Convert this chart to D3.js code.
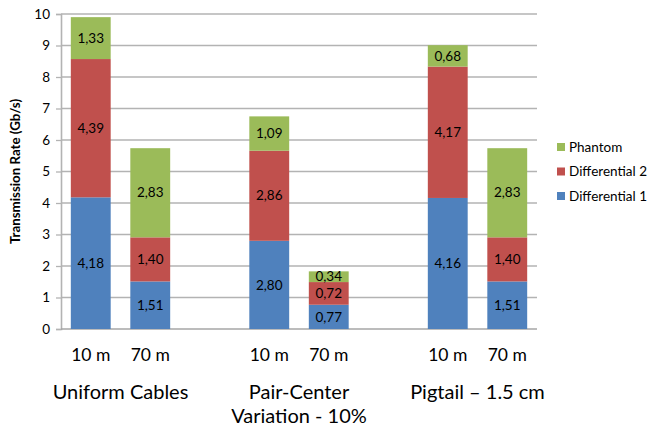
<!DOCTYPE html>
<html>
<head>
<meta charset="utf-8">
<script src="https://cdn.jsdelivr.net/npm/d3@7"></script>
<style>
  html, body { margin: 0; padding: 0; background: #fff; }
  svg { display: block; font-family: Lato, "Open Sans", sans-serif; }
</style>
</head>
<body>
<svg id="chart" width="647" height="430"></svg>
<script>
// Bars: one slot per bar, with empty slots separating the three cable groups
const slots = ["u10", "u70", "gap1", "p10", "p70", "gap2", "t10", "t70"];
const barKeys = ["u10", "u70", "p10", "p70", "t10", "t70"];
const barLabels = ["10 m", "70 m", "10 m", "70 m", "10 m", "70 m"];
const groupLabels = [["Uniform Cables"], ["Pair-Center", "Variation - 10%"], ["Pigtail \u2013 1.5 cm"]];
const groupMembers = [["u10", "u70"], ["p10", "p70"], ["t10", "t70"]];

const seriesNames = ["Differential 1", "Differential 2", "Phantom"];
const differential1 = [4.18, 1.51, 2.80, 0.77, 4.16, 1.51];
const differential2 = [4.39, 1.40, 2.86, 0.72, 4.17, 1.40];
const phantom = [1.33, 2.83, 1.09, 0.34, 0.68, 2.83];
const yTicks = [0, 1, 2, 3, 4, 5, 6, 7, 8, 9, 10];
const colors = ["#4F81BD", "#C0504D", "#9BBB59"];

const svg = d3.select("#chart");
const x0 = 61, x1 = 537, yTop = 14, yBot = 329;

const x = d3.scaleBand().domain(slots).range([x0, x1]).paddingInner(0.33).paddingOuter(0.165);
const y = d3.scaleLinear().domain([0, 10]).range([yBot, yTop]);

// horizontal gridlines
svg.append("g").selectAll("line").data(yTicks.filter(d => d > 0)).join("line")
  .attr("x1", x0).attr("x2", x1)
  .attr("y1", d => y(d)).attr("y2", d => y(d))
  .attr("stroke", "#b3b3b3").attr("stroke-width", 1.3);

// y axis
const yAxis = d3.axisLeft(y).tickValues(yTicks).tickSize(5).tickPadding(6).tickFormat(d3.format("d"));
const ga = svg.append("g").attr("transform", `translate(${x0},0)`).call(yAxis);
ga.select(".domain").attr("stroke", "#b3b3b3").attr("stroke-width", 1.6);
ga.selectAll(".tick line").attr("stroke", "#b3b3b3").attr("stroke-width", 1.3);
ga.selectAll(".tick text").attr("font-size", 13.5).attr("fill", "#000").attr("font-family", "Lato, sans-serif");

// x baseline
svg.append("line").attr("x1", x0).attr("x2", x1).attr("y1", yBot).attr("y2", yBot)
  .attr("stroke", "#a6a6a6").attr("stroke-width", 1.5);

// stacked data
const rows = barKeys.map((k, i) => ({
  key: k,
  "Differential 1": differential1[i],
  "Differential 2": differential2[i],
  "Phantom": phantom[i]
}));
const stacked = d3.stack().keys(seriesNames)(rows);

const layers = svg.append("g").selectAll("g").data(stacked).join("g")
  .attr("fill", (d, i) => colors[i]);

layers.selectAll("rect").data(d => d).join("rect")
  .attr("x", d => x(d.data.key))
  .attr("width", x.bandwidth())
  .attr("y", d => y(d[1]))
  .attr("height", d => y(d[0]) - y(d[1]));

// value labels
const fmt = v => d3.format(".2f")(v).replace(".", ",");
svg.append("g").selectAll("g").data(stacked).join("g")
  .selectAll("text").data(d => d.map(p => ({ p, key: d.key }))).join("text")
  .attr("x", d => x(d.p.data.key) + x.bandwidth() / 2)
  .attr("y", d => (y(d.p[0]) + y(d.p[1])) / 2)
  .attr("dy", "0.35em")
  .attr("text-anchor", "middle")
  .attr("font-size", 13.5)
  .attr("fill", "#000")
  .text(d => fmt(d.p.data[d.key]));

// category labels
svg.append("g").selectAll("text").data(barKeys).join("text")
  .attr("x", (d) => x(d) + x.bandwidth() / 2)
  .attr("y", 355)
  .attr("dy", "0.35em")
  .attr("text-anchor", "middle")
  .attr("font-size", 17.5)
  .attr("fill", "#000")
  .text((d, i) => barLabels[i]);

// group labels
groupLabels.forEach((lines, gi) => {
  const m = groupMembers[gi];
  const cx = (x(m[0]) + x(m[1]) + x.bandwidth()) / 2;
  const t = svg.append("text").attr("text-anchor", "middle").attr("font-size", 20).attr("fill", "#000");
  lines.forEach((ln, li) => {
    t.append("tspan").attr("x", cx).attr("y", 392 + li * 24).attr("dy", "0.35em").text(ln);
  });
});

// axis title
svg.append("text")
  .attr("transform", `translate(15,${(yTop + yBot) / 2}) rotate(-90)`)
  .attr("text-anchor", "middle")
  .attr("dy", "0.35em")
  .attr("font-size", 13.3)
  .attr("font-weight", "bold")
  .attr("fill", "#000")
  .text("Transmission Rate (Gb/s)");

// legend (top-down: Phantom, Differential 2, Differential 1)
const legendOrder = [2, 1, 0];
const lg = svg.append("g").selectAll("g").data(legendOrder).join("g")
  .attr("transform", (d, i) => `translate(557,${147 + i * 24.5})`);
lg.append("rect").attr("x", 0).attr("y", -4).attr("width", 8).attr("height", 8)
  .attr("fill", d => colors[d]);
lg.append("text").attr("x", 12).attr("y", 0).attr("dy", "0.35em")
  .attr("font-size", 13.5).attr("fill", "#000")
  .text(d => seriesNames[d]);
</script>
</body>
</html>
